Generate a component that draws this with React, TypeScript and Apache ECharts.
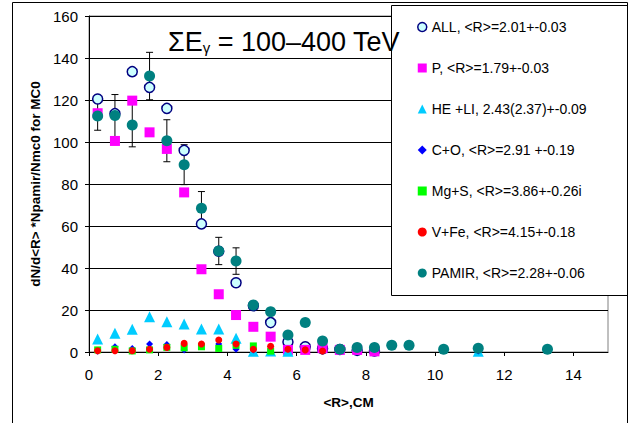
import React, { useEffect, useRef } from "react";
import * as echarts from "echarts";

const FONT = "'Liberation Sans', Arial, sans-serif";

// Bin centres of <R>, cm
const binR = [0.25, 0.75, 1.25, 1.75, 2.25, 2.75, 3.25, 3.75, 4.25, 4.75, 5.25, 5.75, 6.25, 6.75, 7.25, 7.75, 8.25];

const allVals = [120.5, 113.5, 133.5, 126, 116, 96, 61, 48, 33, 22, 14, 4.8, 2.5, 1.5, 1.2, 0.8, 0.5];
const pVals = [113.7, 100.5, 119.7, 104.6, 96.7, 76, 39.4, 27.5, 17.6, 12, 7.3, 1, 1, 1.8, 1, 1, 0.3];

const heliR = [0.25, 0.75, 1.25, 1.75, 2.25, 2.75, 3.25, 3.75, 4.25, 4.75, 5.25, 5.75, 11.25];
const heliVals = [6.2, 8.9, 10.8, 16.8, 14.4, 13.3, 11, 11, 6.5, 0.3, 0.5, 0.3, 0.3];

const coR = [0.25, 0.75, 1.25, 1.75, 2.25, 2.75, 3.25, 3.75, 4.25, 4.75, 5.25, 11.25];
const coVals = [0.3, 2.5, 1.7, 3.8, 3.6, 1, 3.7, 3.8, 1.3, 1, 1, 0.5];

const mgsR = [0.25, 0.75, 1.25, 1.75, 2.25, 2.75, 3.25, 3.75, 4.25, 4.75, 5.25];
const mgsVals = [1, 1.3, 0.5, 1, 2.2, 2, 2.5, 1.7, 3.2, 2.9, 0.4];

const vfeR = [0.25, 0.75, 1.25, 1.75, 2.25, 2.75, 3.25, 3.75, 4.25, 4.75, 5.25, 5.75, 6.25, 6.75];
const vfeVals = [0.6, 0.6, 0.6, 1.3, 2.2, 4.1, 3.8, 5.7, 3.8, 1.3, 2.7, 1.3, 1, 0.5];

const pamirR = [0.25, 0.75, 1.25, 1.75, 2.25, 2.75, 3.25, 3.75, 4.25, 4.75, 5.25, 5.75, 6.25, 6.75, 7.25, 7.75, 8.25, 8.75, 9.25, 10.25, 11.25, 13.25];
const pamirVals = [112.4, 112.6, 108.1, 131.4, 100.6, 89.2, 68.4, 48.1, 43.3, 22.4, 19.2, 8.1, 14, 5.2, 1.3, 2.1, 2.1, 3.2, 3.2, 1.3, 1.8, 1.3];
// Statistical errors of the first PAMIR bins
const pamirErr = [6.8, 10, 10.4, 11.3, 10, 9.5, 8, 6.5, 6.3];

const seriesNames = [
  "ALL, <R>=2.01+-0.03",
  "P, <R>=1.79+-0.03",
  "HE +LI, 2.43(2.37)+-0.09",
  "C+O, <R>=2.91 +-0.19",
  "Mg+S, <R>=3.86+-0.26i",
  "V+Fe, <R>=4.15+-0.18",
  "PAMIR, <R>=2.28+-0.06",
];

const yTicks = { min: 0, max: 160, step: 20 };
const xTicks = { min: 0, max: 15, step: 2 };

const pairs = (xs: number[], ys: number[]) => xs.map((x, i) => [x, ys[i]]);

export default function App() {
  const ref = useRef<HTMLDivElement>(null);

  useEffect(() => {
    if (!ref.current) return;
    const chart = echarts.init(ref.current, null, { renderer: "svg" });

    const errData = pamirErr.map((e, i) => [pamirR[i], pamirVals[i] - e, pamirVals[i] + e]);

    const option: any = {
      animation: false,
      backgroundColor: "#fff",
      textStyle: { fontFamily: FONT },
      grid: {
        left: 89,
        right: 27,
        top: 16,
        bottom: 71,
        show: true,
        borderColor: "#808080",
        borderWidth: 1,
      },
      xAxis: {
        type: "value",
        min: xTicks.min,
        max: xTicks.max,
        interval: xTicks.step,
        name: "<R>,CM",
        nameLocation: "middle",
        nameGap: 43,
        nameTextStyle: { fontWeight: "bold", fontSize: 13.5, color: "#000", fontFamily: FONT },
        axisLine: { show: true, lineStyle: { color: "#000", width: 1 } },
        axisTick: { show: true, inside: false, length: 4, lineStyle: { color: "#000" } },
        axisLabel: { fontSize: 15, color: "#000", margin: 15, showMaxLabel: false, fontFamily: FONT },
        splitLine: { show: false },
      },
      yAxis: {
        type: "value",
        min: yTicks.min,
        max: yTicks.max,
        interval: yTicks.step,
        name: "dN/d<R> *Npamir/Nmc0 for MC0",
        nameLocation: "middle",
        nameRotate: 90,
        nameGap: 47,
        nameTextStyle: { fontWeight: "bold", fontSize: 13.5, color: "#000", fontFamily: FONT },
        axisLine: { show: true, lineStyle: { color: "#000", width: 1 } },
        axisTick: { show: true, inside: false, length: 4, lineStyle: { color: "#000" } },
        axisLabel: { fontSize: 15, color: "#000", margin: 11, fontFamily: FONT },
        splitLine: { show: true, lineStyle: { color: "#000", width: 1 } },
      },
      legend: {
        orient: "vertical",
        left: 417,
        top: 20,
        padding: 0,
        itemGap: 27,
        itemWidth: 9,
        itemHeight: 9,
        selectedMode: false,
        z: 6,
        textStyle: { fontSize: 14, color: "#000", fontFamily: FONT },
        data: [
          { name: seriesNames[0], icon: "circle", itemStyle: { color: "#ccffff", borderColor: "#000080", borderWidth: 1.5 } },
          { name: seriesNames[1], icon: "rect" },
          { name: seriesNames[2], icon: "triangle" },
          { name: seriesNames[3], icon: "diamond" },
          { name: seriesNames[4], icon: "rect" },
          { name: seriesNames[5], icon: "circle" },
          { name: seriesNames[6], icon: "circle" },
        ],
      },
      graphic: [
        {
          type: "rect",
          z: 3,
          shape: { x: 391.5, y: 5.5, width: 236, height: 290 },
          style: { fill: "#fff", stroke: "#000", lineWidth: 1 },
        },
        {
          type: "rect",
          z: 10,
          shape: { x: 12.5, y: 2.5, width: 615, height: 440 },
          style: { fill: "none", stroke: "#000", lineWidth: 1 },
        },
        {
          type: "text",
          z: 10,
          x: 168,
          y: 28,
          style: {
            text: "{a|ΣE}{s|γ}{a| = 100–400 TeV}",
            rich: {
              a: { fontSize: 27, lineHeight: 27, fontFamily: FONT, fill: "#000", verticalAlign: "bottom" },
              s: { fontSize: 15, lineHeight: 6, fontFamily: FONT, fill: "#000", verticalAlign: "bottom" },
            },
          },
        },
      ],
      series: [
        {
          type: "custom",
          name: "pamir-errors",
          z: 1,
          silent: true,
          encode: { x: 0, y: [1, 2] },
          data: errData,
          renderItem: (_params: any, api: any) => {
            const x = api.value(0);
            const top = api.coord([x, api.value(2)]);
            const bot = api.coord([x, api.value(1)]);
            const half = 3.5;
            const st = { stroke: "#000", lineWidth: 1 };
            return {
              type: "group",
              children: [
                { type: "line", shape: { x1: top[0], y1: top[1], x2: bot[0], y2: bot[1] }, style: st },
                { type: "line", shape: { x1: top[0] - half, y1: top[1], x2: top[0] + half, y2: top[1] }, style: st },
                { type: "line", shape: { x1: bot[0] - half, y1: bot[1], x2: bot[0] + half, y2: bot[1] }, style: st },
              ],
            };
          },
        },
        {
          type: "scatter",
          name: seriesNames[0],
          symbol: "circle",
          symbolSize: 10,
          itemStyle: { color: "#ccffff", borderColor: "#000080", borderWidth: 1.5, opacity: 1 },
          data: pairs(binR, allVals),
        },
        {
          type: "scatter",
          name: seriesNames[1],
          symbol: "rect",
          symbolSize: 10,
          itemStyle: { color: "#ff00ff", opacity: 1 },
          data: pairs(binR, pVals),
        },
        {
          type: "scatter",
          name: seriesNames[2],
          symbol: "triangle",
          symbolSize: 11,
          itemStyle: { color: "#00ccff", opacity: 1 },
          data: pairs(heliR, heliVals),
        },
        {
          type: "scatter",
          name: seriesNames[3],
          symbol: "diamond",
          symbolSize: 7,
          itemStyle: { color: "#0000ff", opacity: 1 },
          data: pairs(coR, coVals),
        },
        {
          type: "scatter",
          name: seriesNames[4],
          symbol: "rect",
          symbolSize: 7,
          itemStyle: { color: "#00ff00", opacity: 1 },
          data: pairs(mgsR, mgsVals),
        },
        {
          type: "scatter",
          name: seriesNames[5],
          symbol: "circle",
          symbolSize: 7,
          itemStyle: { color: "#ff0000", opacity: 1 },
          data: pairs(vfeR, vfeVals),
        },
        {
          type: "scatter",
          name: seriesNames[6],
          symbol: "circle",
          symbolSize: 11,
          itemStyle: { color: "#008080", opacity: 1 },
          data: pairs(pamirR, pamirVals),
        },
      ],
    };

    chart.setOption(option);
    return () => chart.dispose();
  }, []);

  return (
    <div
      ref={ref}
      style={{ position: "fixed", left: 0, top: 0, width: 635, height: 423, background: "#fff" }}
    />
  );
}
